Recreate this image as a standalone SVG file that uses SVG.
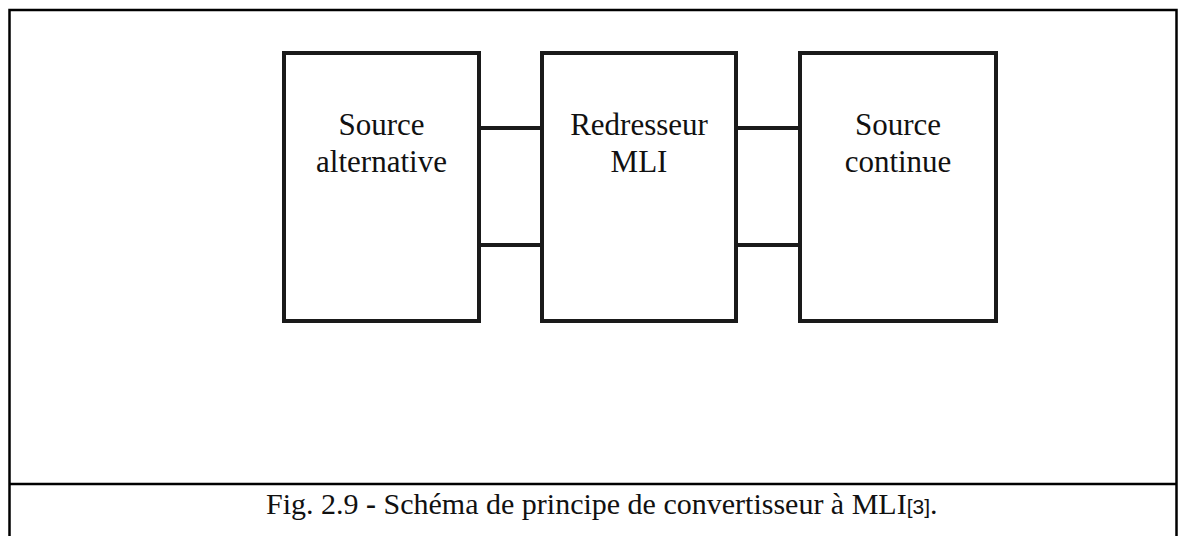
<svg xmlns="http://www.w3.org/2000/svg" width="1178" height="536" viewBox="0 0 1178 536">
  <style>
    .frame { fill: none; stroke: #000; stroke-width: 2.5; }
    .box { fill: #fff; stroke: #1a1a1a; stroke-width: 4; }
    .wire { stroke: #1a1a1a; stroke-width: 4; fill: none; }
    .label { font-family: "Liberation Serif", "Times New Roman", serif; font-size: 31px; fill: #111; text-anchor: middle; }
    .caption { font-family: "Liberation Serif", "Times New Roman", serif; font-size: 30px; fill: #111; }
    .ref { font-family: "Liberation Sans", Arial, sans-serif; font-size: 21px; }
  </style>
  <rect width="1178" height="536" fill="#fff"/>

  <!-- figure frame: open at the bottom, with a rule above the caption -->
  <g id="frame">
    <path class="frame" d="M9.5,536 V10 H1176.5 V536"/>
    <line class="frame" x1="9.5" y1="484" x2="1176.5" y2="484"/>
  </g>

  <!-- two-wire links between the blocks -->
  <g id="connectors">
    <line class="wire" x1="479" y1="128" x2="542" y2="128"/>
    <line class="wire" x1="479" y1="245" x2="542" y2="245"/>
    <line class="wire" x1="736" y1="128" x2="800" y2="128"/>
    <line class="wire" x1="736" y1="245" x2="800" y2="245"/>
  </g>

  <g id="source-alternative">
    <rect class="box" x="284" y="53" width="195" height="268"/>
    <text class="label" x="381.5" y="135">Source</text>
    <text class="label" x="381.5" y="172">alternative</text>
  </g>

  <g id="redresseur-mli">
    <rect class="box" x="542" y="53" width="194" height="268"/>
    <text class="label" x="639" y="135">Redresseur</text>
    <text class="label" x="639" y="172">MLI</text>
  </g>

  <g id="source-continue">
    <rect class="box" x="800" y="53" width="196" height="268"/>
    <text class="label" x="898" y="135">Source</text>
    <text class="label" x="898" y="172">continue</text>
  </g>

  <g id="caption">
    <text class="caption" x="266" y="514">Fig. 2.9 <tspan font-weight="bold">-</tspan> Schéma de principe de convertisseur à MLI<tspan class="ref">[3]</tspan>.</text>
  </g>
</svg>
